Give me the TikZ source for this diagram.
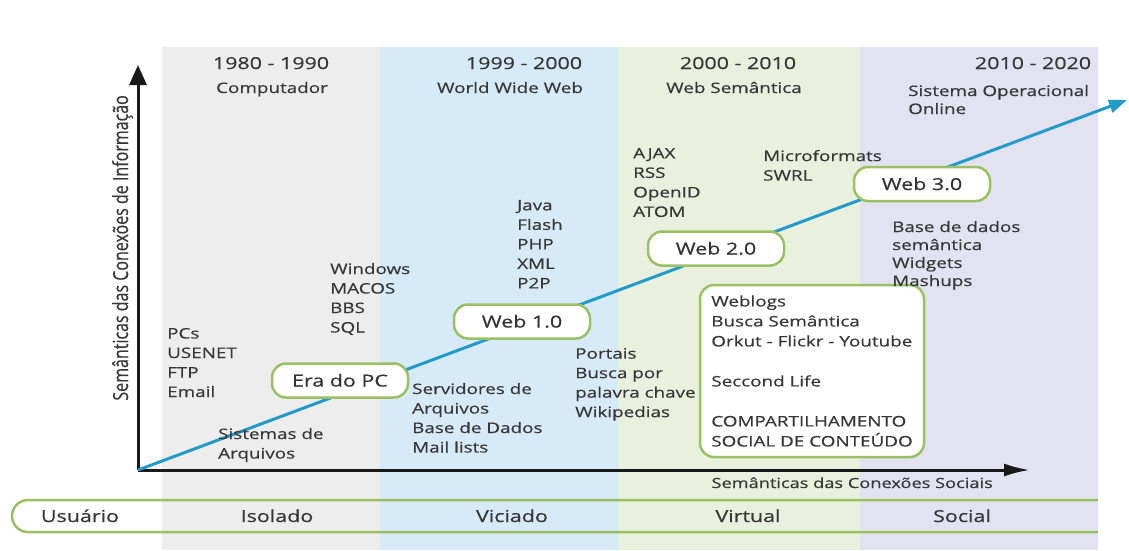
\documentclass[tikz,border=0pt]{standalone}
\usepackage{fontspec}
\setmainfont{Open Sans}[FakeStretch=1.3,FakeBold=0.5]
\newfontfamily\plainfont{Open Sans}[FakeBold=0.5]
\usetikzlibrary{arrows.meta}
\definecolor{bgray}{RGB}{237,237,237}
\definecolor{bblue}{RGB}{214,234,248}
\definecolor{bgreen}{RGB}{233,241,222}
\definecolor{blav}{RGB}{226,226,240}
\definecolor{ngreen}{RGB}{155,192,100}
\definecolor{lblue}{RGB}{35,155,200}
\definecolor{tcol}{RGB}{55,55,55}
\definecolor{axcol}{RGB}{25,25,25}
\begin{document}
\begin{tikzpicture}[x=1pt,y=-1pt,
  txt/.style={font=\fontsize{14.5}{19.5}\selectfont, text=tcol, inner sep=0pt, align=left, anchor=north west},
  yearlbl/.style={font=\fontsize{16.5}{20}\selectfont, text=tcol, inner sep=0pt, anchor=base},
  sublbl/.style={font=\fontsize{14.5}{18}\selectfont, text=tcol, inner sep=0pt, anchor=base},
  bandlbl/.style={font=\fontsize{16.5}{20}\selectfont, text=tcol, inner sep=0pt, anchor=base},
  webnode/.style={draw=ngreen, line width=2.5pt, fill=white, rounded corners=14pt,
    minimum width=136pt, minimum height=34pt, inner sep=0pt, text height=12pt, text depth=0pt,
    font=\fontsize{16.5}{20}\selectfont, text=black!80},
  bigbox/.style={draw=ngreen, line width=2.5pt, fill=white, rounded corners=14pt,
    minimum width=224pt, minimum height=172pt, align=left,
    font=\fontsize{14.5}{20}\selectfont, text=tcol},
  axisline/.style={draw=axcol, line width=3pt},
  blueline/.style={draw=lblue, line width=3pt}
]
\useasboundingbox (0,0) rectangle (1129,550);
\fill[white] (0,0) rectangle (1129,550);
% era bands
\fill[bgray] (162,47) rectangle (380,550);
\fill[bblue] (380,47) rectangle (618,550);
\fill[bgreen] (618,47) rectangle (860,550);
\fill[blav] (860,47) rectangle (1098,550);
% bottom band
\draw[draw=ngreen, line width=2.5pt, rounded corners=16pt] (1098,500) -- (12,500) -- (12,532) -- (1098,532);
% axes
\coordinate (O) at (138,470);
\coordinate (ytip) at (138,65);
\coordinate (xtip) at (1030,470);
\coordinate (btip) at (1127,100);
\draw[axisline, -{Triangle[length=20pt,width=17pt]}] (O) -- (ytip);
\draw[axisline, -{Latex[length=26pt,width=13pt]}] (O) -- (xtip);
\draw[blueline, -{Triangle[length=18pt,width=13pt,fill=lblue]}] (O) -- (btip);
% web nodes
\node[webnode] (era) at (340,380.5) {Era do PC};
\node[webnode] (w1) at (522,321.5) {Web 1.0};
\node[webnode] (w2) at (716,248.5) {Web 2.0};
\node[webnode] (w3) at (922,184) {Web 3.0};
% big box
\node[bigbox] (box) at (812,371) {Weblogs\\Busca Semântica\\Orkut - Flickr - Youtube\\[20pt]Seccond Life\\[20pt]COMPARTILHAMENTO\\SOCIAL DE CONTEÚDO};
% headers
\node[yearlbl] (y1) at (271,69) {1980 - 1990};
\node[sublbl] (s1) at (272,93) {Computador};
\node[yearlbl] (y2) at (524,69) {1999 - 2000};
\node[sublbl] (s2) at (510,93) {World Wide Web};
\node[yearlbl] (y3) at (738,69) {2000 - 2010};
\node[sublbl] (s3) at (734,93) {Web Semântica};
\node[yearlbl] (y4) at (1033,69) {2010 - 2020};
\node[txt, font=\fontsize{14.5}{18}\selectfont] (sop) at (908,84.8) {Sistema Operacional\\Online};
% text blocks
\node[txt] (pcs) at (167,327.8) {PCs\\USENET\\FTP\\Email};
\node[txt] (sis) at (218,427.8) {Sistemas de\\Arquivos};
\node[txt] (win) at (330,262.8) {Windows\\MACOS\\BBS\\SQL};
\node[txt] (srv) at (412,382.8) {Servidores de\\Arquivos\\Base de Dados\\Mail lists};
\node[txt] (java) at (517,199.8) {Java\\Flash\\PHP\\XML\\P2P};
\node[txt] (port) at (575,347.8) {Portais\\Busca por\\palavra chave\\Wikipedias};
\node[txt] (ajax) at (633,147.8) {AJAX\\RSS\\OpenID\\ATOM};
\node[txt] (micro) at (763,149.8) {Microformats\\SWRL};
\node[txt, font=\fontsize{14.5}{18}\selectfont] (bdd) at (892,220.8) {Base de dados\\semântica\\Widgets\\Mashups};
% axis labels
\node[font=\fontsize{14}{16}\selectfont, text=tcol, anchor=base east, inner sep=0pt] (xl) at (993,488) {Semânticas das Conexões Sociais};
\node[rotate=90, anchor=base east, inner sep=0pt, text=tcol] (yl) at (128,95) {\scalebox{1}[1.3]{\plainfont\fontsize{16}{18}\selectfont Semânticas das Conexões de Informação}};
% bottom band labels
\node[bandlbl] (u) at (80,522) {Usuário};
\node[bandlbl] (iso) at (277,522) {Isolado};
\node[bandlbl] (vic) at (512,522) {Viciado};
\node[bandlbl] (vir) at (748,522) {Virtual};
\node[bandlbl] (soc) at (962,522) {Social};
\end{tikzpicture}
\end{document}
